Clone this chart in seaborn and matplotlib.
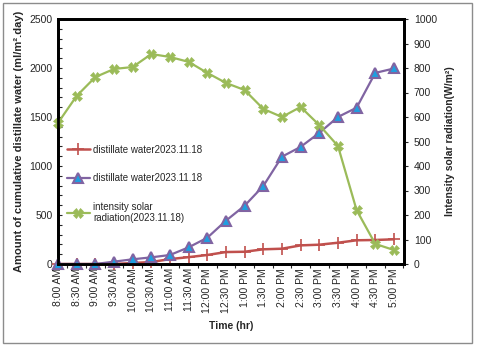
import numpy as np
import pandas as pd
import seaborn as sns
import matplotlib.pyplot as plt
from matplotlib.patches import Rectangle
from matplotlib.ticker import MultipleLocator

# data
times = ["8:00 AM", "8:30 AM", "9:00 AM", "9:30 AM", "10:00 AM", "10:30 AM",
         "11:00 AM", "11:30 AM", "12:00 PM", "12:30 PM", "1:00 PM", "1:30 PM",
         "2:00 PM", "2:30 PM", "3:00 PM", "3:30 PM", "4:00 PM", "4:30 PM", "5:00 PM"]
water_red = [0, 0, 0, 0, 10, 20, 50, 70, 92, 122, 125, 150, 156, 190, 197, 217, 242, 245, 252]
water_purple = [0, 0, 0, 24, 48, 68, 92, 170, 268, 442, 595, 796, 1095, 1195, 1338, 1500, 1595, 1950, 1995]
solar = [576, 686, 763, 796, 804, 857, 845, 825, 780, 739, 710, 633, 600, 641, 567, 482, 220, 82, 57]

label_red = "distillate water2023.11.18"
label_purple = "distillate water2023.11.18"
label_green = "intensity solar\nradiation(2023.11.18)"

red = "#C0504D"
purple = "#8064A2"
tri_face = "#1E9FE0"
green = "#9BBB59"

sns.set_style("white")
plt.rcParams['font.family'] = ['Liberation Sans', 'DejaVu Sans']

df = pd.DataFrame({"x": np.arange(len(times)), "red": water_red,
                   "purple": water_purple, "solar": solar})

fig = plt.figure(figsize=(4.8, 3.47), dpi=100)
ax = fig.add_axes([58 / 480, 1 - 264 / 347, (404 - 58) / 480, (264 - 19) / 347])
ax2 = ax.twinx()

sns.lineplot(data=df, x="x", y="red", ax=ax, color=red, marker="+", markersize=9,
             markeredgecolor=red, markeredgewidth=1.2, linewidth=1.8, label=label_red,
             legend=False, clip_on=False, zorder=3)
sns.lineplot(data=df, x="x", y="purple", ax=ax, color=purple, marker="^", markersize=7.5,
             markerfacecolor=tri_face, markeredgecolor=purple, markeredgewidth=1.5,
             linewidth=1.6, label=label_purple, legend=False, clip_on=False, zorder=4)
sns.lineplot(data=df, x="x", y="solar", ax=ax2, color=green, marker="X", markersize=7,
             markerfacecolor=green, markeredgecolor=green, markeredgewidth=0.5,
             linewidth=1.6, label=label_green, legend=False, clip_on=False)

ax.set_xlim(0, 18.54)
ax.set_ylim(0, 2500)
ax2.set_ylim(0, 1000)

ax.set_xticks(np.arange(len(times)))
ax.set_xticklabels(times, rotation=90, fontsize=7.5)
ax.tick_params(axis="x", length=0, pad=3)
ax.set_xticks(np.arange(len(times)) + 0.5, minor=True)
ax.tick_params(axis="x", which="minor", length=3, direction="out", bottom=True, width=0.8)

ax.yaxis.set_major_locator(MultipleLocator(500))
ax.yaxis.set_minor_locator(MultipleLocator(100))
ax.tick_params(axis="y", which="both", direction="in", length=3, width=0.8, left=True,
               labelsize=7.5, pad=4)
ax2.yaxis.set_major_locator(MultipleLocator(100))
ax2.tick_params(axis="y", direction="out", length=3, width=0.8, right=True,
                labelsize=7.5, pad=4)

for a in (ax, ax2):
    for s in a.spines.values():
        s.set_linewidth(2)
        s.set_color("black")

ax.set_xlabel("Time (hr)", fontsize=7.5, fontweight="bold", labelpad=6)
ax.set_ylabel("Amount of cumulative distillate water (ml/m².day)", fontsize=8,
              fontweight="bold", labelpad=4)
ax2.set_ylabel("Intensity solar radiation(W/m²)", fontsize=7.5, fontweight="bold",
               labelpad=6)

h1, l1 = ax.get_legend_handles_labels()
h2, l2 = ax2.get_legend_handles_labels()
leg = ax2.legend(h1 + h2, l1 + l2, loc="upper left", frameon=False, fontsize=7,
                 bbox_to_anchor=(58 / 480, 1 - 136 / 347), bbox_transform=fig.transFigure,
                 handlelength=2.4, labelspacing=1.9, handletextpad=0.3)

# outer chart border
fig.patches.append(Rectangle((3 / 480, 4 / 347), 469 / 480, 340 / 347,
                             transform=fig.transFigure, fill=False,
                             edgecolor="#8c8c8c", linewidth=1))

fig.savefig("out.png", dpi=100)
